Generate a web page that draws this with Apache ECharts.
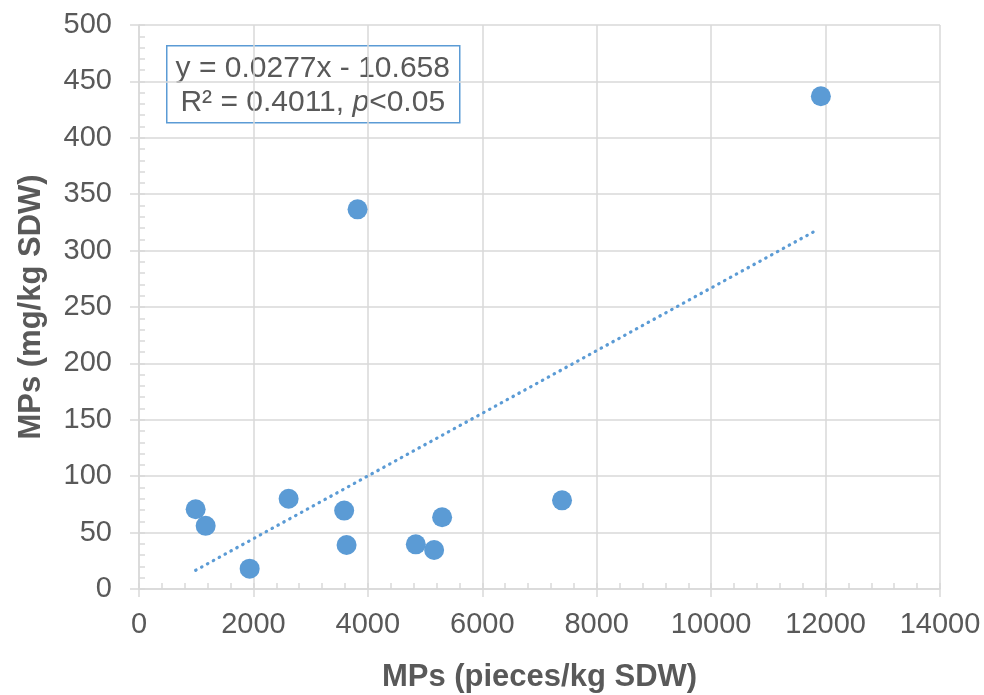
<!DOCTYPE html>
<html>
<head>
<meta charset="utf-8">
<script src="https://cdn.jsdelivr.net/npm/echarts@6/dist/echarts.min.js"></script>
<style>
  html, body { margin: 0; padding: 0; background: #fff; }
  #main { width: 984px; height: 695px; }
</style>
</head>
<body>
<div id="main"></div>
<script>
// data
var piecesX = [990, 1165, 1934, 2615, 3586, 3628, 4838, 5158, 5298, 7394, 3820, 11918];
var massY = [70.7, 56, 18, 80, 69.5, 39, 39.6, 34.6, 63.6, 78.6, 336.6, 436.8];
var trendX = [990, 11850];
var trendY = [16.6, 318.3];
var xTicks = { min: 0, max: 14000, step: 2000, minor: 400 };
var yTicks = { min: 0, max: 500, step: 50, minor: 10 };
var xTitle = 'MPs (pieces/kg SDW)';
var yTitle = 'MPs (mg/kg SDW)';
var eqLine = 'y = 0.0277x - 10.658';

var myChart = echarts.init(document.getElementById('main'));

var points = [];
piecesX.forEach(function (x, i) {
    points.push([x, massY[i]]);
});
var trend = [];
trendX.forEach(function (x, i) {
    trend.push([x, trendY[i]]);
});

var font = 'Liberation Sans, Arial, sans-serif';
var grey = '#595959';
var lineGrey = '#d9d9d9';

var option = {
    backgroundColor: '#fff',
    animation: false,
    grid: { left: 139, right: 44, top: 25, bottom: 106, outerBoundsMode: 'none', containLabel: false },
    xAxis: [{
        type: 'value',
        min: xTicks.min, max: xTicks.max, interval: xTicks.step,
        name: xTitle,
        nameLocation: 'middle',
        nameGap: 73,
        nameTextStyle: { fontFamily: font, fontSize: 31, fontWeight: 'bold', color: grey },
        axisLine: { show: true, lineStyle: { color: lineGrey, width: 1.5 } },
        axisTick: { show: true, length: 8, lineStyle: { color: lineGrey, width: 1.5 } },
        axisLabel: {
            fontFamily: font, fontSize: 29, color: grey, margin: 21,
            formatter: function (v) { return String(v); }
        },
        splitLine: { show: true, lineStyle: { color: lineGrey, width: 1.5 } }
    }, {
        // minor ticks pointing into the plot
        type: 'value',
        min: xTicks.min, max: xTicks.max, interval: xTicks.minor,
        position: 'bottom',
        axisLine: { show: false },
        axisTick: { show: true, inside: true, length: 6, lineStyle: { color: lineGrey, width: 1.5 } },
        axisLabel: { show: false },
        splitLine: { show: false }
    }],
    yAxis: [{
        type: 'value',
        min: yTicks.min, max: yTicks.max, interval: yTicks.step,
        name: yTitle,
        nameLocation: 'middle',
        nameRotate: 90,
        nameGap: 92,
        nameTextStyle: { fontFamily: font, fontSize: 31, fontWeight: 'bold', color: grey },
        axisLine: { show: true, lineStyle: { color: lineGrey, width: 1.5 } },
        axisTick: { show: true, length: 9, lineStyle: { color: lineGrey, width: 1.5 } },
        axisLabel: { fontFamily: font, fontSize: 29, color: grey, margin: 27 },
        splitLine: { show: true, lineStyle: { color: lineGrey, width: 1.5 } }
    }, {
        type: 'value',
        min: yTicks.min, max: yTicks.max, interval: yTicks.minor,
        position: 'left',
        axisLine: { show: false },
        axisTick: { show: true, inside: true, length: 6, lineStyle: { color: lineGrey, width: 1.5 } },
        axisLabel: { show: false },
        splitLine: { show: false }
    }],
    series: [{
        type: 'line',
        data: trend,
        showSymbol: false,
        silent: true,
        z: 1,
        lineStyle: { color: '#5b9bd5', width: 3.2, type: [0.5, 6.2], cap: 'round' }
    }, {
        type: 'scatter',
        data: points,
        symbolSize: 20,
        z: 3,
        itemStyle: { color: '#5b9bd5', opacity: 1 }
    }],
    graphic: [{
        type: 'group',
        left: 166,
        top: 45,
        children: [{
            type: 'rect',
            shape: { x: 0, y: 0, width: 293, height: 77 },
            style: { fill: '#fff', stroke: '#5b9bd5', lineWidth: 1.5 }
        }, {
            type: 'text',
            x: 146, y: 23,
            style: {
                text: eqLine,
                fontFamily: font, fontSize: 30, fill: grey,
                align: 'center', verticalAlign: 'middle'
            }
        }, {
            type: 'text',
            x: 146, y: 57,
            style: {
                text: 'R² = 0.4011, {i|p}<0.05',
                fontFamily: font, fontSize: 30, fill: grey,
                align: 'center', verticalAlign: 'middle',
                rich: {
                    i: { fontFamily: font, fontSize: 30, fontStyle: 'italic', fill: grey }
                }
            }
        }]
    }]
};
myChart.setOption(option);
</script>
</body>
</html>
